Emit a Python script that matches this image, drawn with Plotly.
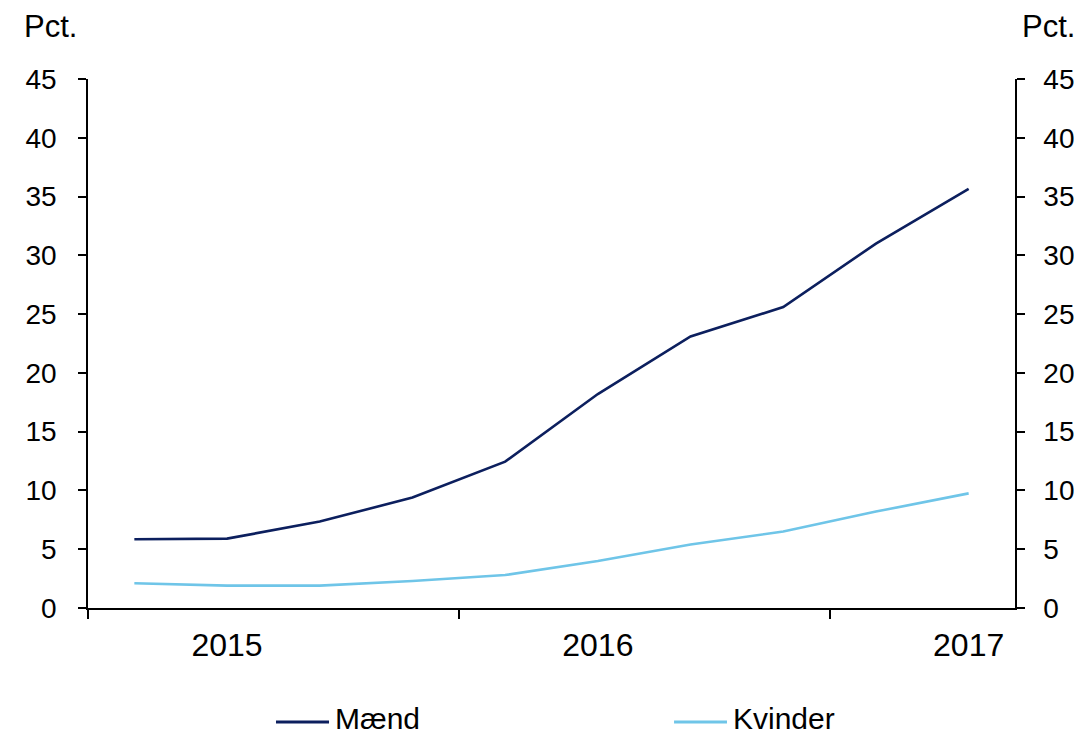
import plotly.graph_objects as go

# Quarterly observations, 2015 Q1 - 2017 Q2
quarters = ["2015K1", "2015K2", "2015K3", "2015K4",
            "2016K1", "2016K2", "2016K3", "2016K4",
            "2017K1", "2017K2"]
maend = [5.85, 5.9, 7.35, 9.4, 12.45, 18.2, 23.1, 25.6, 31.0, 35.65]
kvinder = [2.1, 1.9, 1.9, 2.3, 2.8, 4.0, 5.4, 6.5, 8.2, 9.75]

year_labels = ["2015", "2016", "2017"]
year_label_pos = [1, 5, 9]
year_breaks = [-0.5, 3.5, 7.5]
y_ticks = list(range(0, 50, 5))

xs = list(range(len(quarters)))
FONT = "Liberation Sans, Arial, sans-serif"
C_MAEND = "#0c1f5e"
C_KVINDER = "#6fc5e8"

fig = go.Figure()
fig.add_trace(go.Scatter(x=xs, y=maend, name="Mænd", mode="lines",
                         text=quarters,
                         line=dict(color=C_MAEND, width=2.6)))
fig.add_trace(go.Scatter(x=xs, y=kvinder, name="Kvinder", mode="lines",
                         text=quarters,
                         line=dict(color=C_KVINDER, width=2.6)))
# invisible trace to carry the right-hand axis
fig.add_trace(go.Scatter(x=xs, y=maend, yaxis="y2", mode="lines",
                         line=dict(width=0), showlegend=False,
                         hoverinfo="skip"))

axis_common = dict(showline=True, linecolor="black", linewidth=1.5,
                   showgrid=False, zeroline=False, automargin=False,
                   tickfont=dict(family=FONT, size=28, color="black"))

# legend drawn by hand (plotly's own legend pushes the margins)
legend_items = [("Mænd", C_MAEND, 0.2028, 0.26),
                ("Kvinder", C_KVINDER, 0.6322, 0.6893)]
legend_line_y = -0.2155
legend_text_y = -0.2098
shapes = []
annotations = []
for name, color, x0, x1 in legend_items:
    shapes.append(dict(type="line", xref="paper", yref="paper",
                       x0=x0, x1=x1, y0=legend_line_y, y1=legend_line_y,
                       line=dict(color=color, width=3)))
    annotations.append(dict(text=name, xref="paper", yref="paper",
                            x=x1 + 0.004, y=legend_text_y, xanchor="left",
                            yanchor="middle", showarrow=False,
                            font=dict(family=FONT, size=30)))

annotations += [
    dict(text="Pct.", xref="paper", yref="paper", x=-0.0712, y=1.1,
         xanchor="left", yanchor="middle", showarrow=False,
         font=dict(family=FONT, size=31)),
    dict(text="Pct.", xref="paper", yref="paper", x=1.0669, y=1.1,
         xanchor="right", yanchor="middle", showarrow=False,
         font=dict(family=FONT, size=31)),
]

# page body has an 8px margin, so the figure is shifted by 8px
fig.update_layout(
    width=1066, height=730,
    margin=dict(l=80, r=59, t=71, b=130),
    paper_bgcolor="white", plot_bgcolor="white",
    font=dict(family=FONT, size=28, color="black"),
    xaxis=dict(axis_common, range=[-0.5, 9.5],
               tickmode="array", tickvals=year_label_pos,
               ticktext=year_labels, ticks="",
               ticklabelstandoff=8,
               minor=dict(tickmode="array", tickvals=year_breaks,
                          ticks="outside", ticklen=9, tickwidth=1.5,
                          tickcolor="black"),
               tickfont=dict(family=FONT, size=32, color="black")),
    yaxis=dict(axis_common, range=[0, 45], tickvals=y_ticks,
               ticks="outside", ticklen=8, tickwidth=1.5,
               tickcolor="black", ticklabelstandoff=16),
    yaxis2=dict(axis_common, range=[0, 45], tickvals=y_ticks,
                overlaying="y", side="right",
                ticks="outside", ticklen=8, tickwidth=1.5,
                tickcolor="black", ticklabelstandoff=13),
    showlegend=False,
    shapes=shapes,
    annotations=annotations,
)

fig.write_html("out.html")
